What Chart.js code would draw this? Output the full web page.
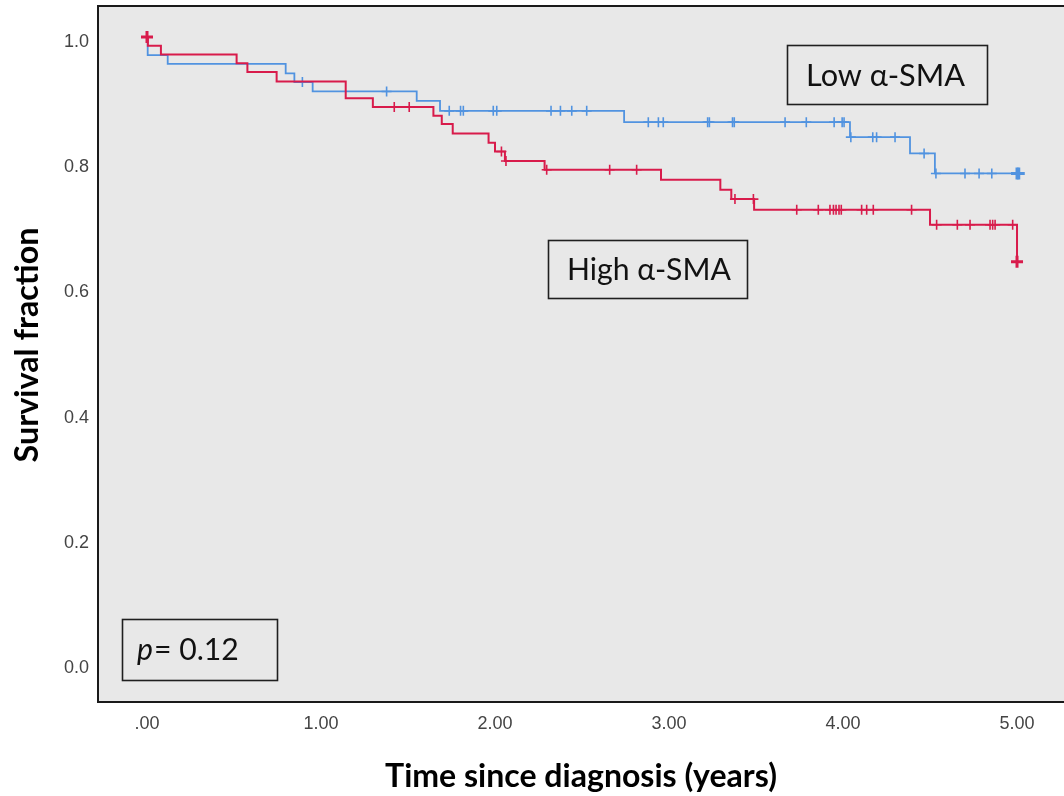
<!DOCTYPE html>
<html>
<head>
<meta charset="utf-8">
<script src="https://cdn.jsdelivr.net/npm/chart.js@4"></script>
<style>
  html, body { margin: 0; padding: 0; background: #ffffff; overflow: hidden; }
  canvas { display: block; }
</style>
</head>
<body>
<canvas id="km" width="1064" height="796"></canvas>
<script>
// ---- Data (Kaplan–Meier curves) ----
// High α-SMA group: event times (years) and survival after each step
const highTimes = [0, 0.005, 0.08, 0.515, 0.577, 0.745, 1.142, 1.298, 1.646, 1.694, 1.757, 1.963, 2.0, 2.057, 2.285, 2.954, 3.295, 3.358, 3.489, 4.5, 5.0];
const highSurv  = [1.0, 0.986, 0.972, 0.958, 0.944, 0.929, 0.902, 0.888, 0.874, 0.861, 0.846, 0.831, 0.817, 0.802, 0.788, 0.772, 0.756, 0.741, 0.724, 0.700, 0.641];
const highCensored = [0, 1.421, 1.507, 2.037, 2.063, 2.297, 2.659, 2.814, 3.379, 3.485, 3.734, 3.858, 3.925, 3.945, 3.96, 3.977, 3.99, 4.107, 4.136, 4.174, 4.394, 4.538, 4.657, 4.730, 4.845, 4.860, 4.874, 4.975, 5.0];

// Low α-SMA group
const lowTimes = [0, 0.004, 0.119, 0.797, 0.847, 0.952, 1.55, 1.684, 2.742, 4.04, 4.385, 4.528, 5.01];
const lowSurv  = [1.0, 0.971, 0.957, 0.942, 0.928, 0.913, 0.898, 0.882, 0.864, 0.840, 0.814, 0.782, 0.782];
const lowCensored = [0.893, 1.377, 1.737, 1.802, 1.818, 1.99, 2.01, 2.322, 2.376, 2.441, 2.527, 2.881, 2.939, 2.967, 3.222, 3.232, 3.365, 3.375, 3.667, 3.789, 3.949, 3.995, 4.006, 4.045, 4.171, 4.193, 4.299, 4.466, 4.534, 4.701, 4.782, 4.855, 5.0, 5.01];

const xTicks = [0, 1, 2, 3, 4, 5];
const xTickLabels = ['.00', '1.00', '2.00', '3.00', '4.00', '5.00'];
const yTicks = [0, 0.2, 0.4, 0.6, 0.8, 1.0];
const yTickLabels = ['0.0', '0.2', '0.4', '0.6', '0.8', '1.0'];

const xTitle = 'Time since diagnosis (years)';
const yTitle = 'Survival fraction';
const lowLabel = 'Low α-SMA';
const highLabel = 'High α-SMA';
const pLabelItalic = 'p';
const pLabelRest = '= 0.12';

// ---- helpers ----
const RED = '#d81b4b';
const BLUE = '#5193e0';
const TITLE_FAMILY = 'Lato, "Open Sans", sans-serif';

function steps(times, surv) {
  return times.map((t, i) => ({ x: t, y: surv[i] }));
}
function survAt(times, surv, t) {
  let v = surv[0];
  for (let i = 0; i < times.length; i++) { if (times[i] <= t) v = surv[i]; }
  return v;
}
function censorPoints(cens, times, surv) {
  return cens.map(t => ({ x: t, y: survAt(times, surv, t) }));
}

const measureCtx = document.createElement('canvas').getContext('2d');
function fitSize(text, family, weight, style, targetWidth) {
  measureCtx.font = `${style} ${weight} 40px ${family}`;
  const w = measureCtx.measureText(text).width;
  return 40 * targetWidth / w;
}
const xTitleSize = fitSize(xTitle, TITLE_FAMILY, 'bold', 'normal', 392);
const yTitleSize = fitSize(yTitle, TITLE_FAMILY, 'bold', 'normal', 235);

const bgPlugin = {
  id: 'plotFrame',
  beforeDatasetsDraw(chart) {
    const { ctx, chartArea: a } = chart;
    ctx.save();
    ctx.fillStyle = '#e8e8e8';
    ctx.fillRect(a.left, a.top, a.right - a.left, a.bottom - a.top);
    ctx.restore();
  },
  afterDatasetsDraw(chart) {
    const { ctx, chartArea: a } = chart;
    ctx.save();
    ctx.strokeStyle = '#1a1a1a';
    ctx.lineWidth = 2;
    ctx.beginPath();
    ctx.moveTo(a.right, a.top);
    ctx.lineTo(a.left, a.top);
    ctx.lineTo(a.left, a.bottom);
    ctx.lineTo(a.right, a.bottom);
    ctx.stroke();
    ctx.restore();
  }
};

const boxPlugin = {
  id: 'annotBoxes',
  afterDraw(chart) {
    const ctx = chart.ctx;
    ctx.save();
    // y axis title (rotated)
    ctx.fillStyle = '#000000';
    ctx.textAlign = 'center';
    ctx.textBaseline = 'middle';
    ctx.font = `bold ${yTitleSize}px ${TITLE_FAMILY}`;
    ctx.translate(28, 345);
    ctx.rotate(-Math.PI / 2);
    ctx.fillText(yTitle, 0, 0);
    ctx.restore();

    ctx.save();
    ctx.strokeStyle = '#1f1f1f';
    ctx.lineWidth = 1.6;
    ctx.fillStyle = '#111111';
    ctx.textBaseline = 'middle';
    ctx.textAlign = 'left';
    const fam = TITLE_FAMILY;
    // Low box
    ctx.strokeRect(787.5, 45.5, 200, 59);
    let fs = fitSize(lowLabel, fam, 'normal', 'normal', 159);
    ctx.font = `normal ${fs}px ${fam}`;
    ctx.fillText(lowLabel, 806, 76);
    // High box
    ctx.strokeRect(548.5, 240.5, 199, 58);
    fs = fitSize(highLabel, fam, 'normal', 'normal', 164);
    ctx.font = `normal ${fs}px ${fam}`;
    ctx.fillText(highLabel, 567, 270);
    // p box
    ctx.strokeRect(122.5, 619.5, 155, 61);
    ctx.font = `italic ${fs}px ${fam}`;
    ctx.fillText(pLabelItalic, 137, 650);
    const pw = ctx.measureText(pLabelItalic).width;
    ctx.font = `normal ${fs}px ${fam}`;
    ctx.fillText(pLabelRest, 137 + pw + 1, 650);
    ctx.restore();
  }
};

function clearPadding(s) {
  s.paddingTop = 0; s.paddingBottom = 0; s.paddingLeft = 0; s.paddingRight = 0;
}

const ctx = document.getElementById('km').getContext('2d');
new Chart(ctx, {
  type: 'scatter',
  data: {
    datasets: [
      {
        label: 'High α-SMA censored',
        data: censorPoints(highCensored, highTimes, highSurv),
        showLine: false,
        pointStyle: 'cross',
        pointRadius: c => (c.raw && (c.raw.x >= 4.99 || c.raw.x === 0)) ? 6 : 5,
        pointBorderWidth: c => (c.raw && (c.raw.x >= 4.99 || c.raw.x === 0)) ? 3 : 1.6,
        borderColor: RED,
        backgroundColor: RED
      },
      {
        label: 'High α-SMA',
        data: steps(highTimes, highSurv),
        showLine: true,
        stepped: 'before',
        borderColor: RED,
        borderWidth: 2,
        pointRadius: 0
      },
      {
        label: 'Low α-SMA censored',
        data: censorPoints(lowCensored, lowTimes, lowSurv),
        showLine: false,
        pointStyle: 'cross',
        pointRadius: c => (c.raw && c.raw.x >= 4.99) ? 6 : 5,
        pointBorderWidth: c => (c.raw && c.raw.x >= 4.99) ? 3 : 1.6,
        borderColor: BLUE,
        backgroundColor: BLUE
      },
      {
        label: 'Low α-SMA',
        data: steps(lowTimes, lowSurv),
        showLine: true,
        stepped: 'before',
        borderColor: BLUE,
        borderWidth: 1.8,
        pointRadius: 0
      }
    ]
  },
  options: {
    responsive: false,
    animation: false,
    layout: { autoPadding: false, padding: { top: 6, left: 0, right: 0, bottom: 0 } },
    plugins: { legend: { display: false }, tooltip: { enabled: false } },
    scales: {
      x: {
        type: 'linear',
        min: -0.2816,
        max: 5.270,
        afterBuildTicks: s => { s.ticks = xTicks.map(v => ({ value: v })); },
        afterFit: s => { s.height = 94; clearPadding(s); },
        grid: { display: false, drawTicks: false },
        border: { display: false },
        ticks: {
          callback: (v) => { const i = xTicks.indexOf(v); return i >= 0 ? xTickLabels[i] : ''; },
          font: { family: '"Liberation Sans", Arial, sans-serif', size: 18 },
          color: '#444444',
          padding: 11,
          maxRotation: 0,
          autoSkip: false
        },
        title: {
          display: true,
          text: xTitle,
          font: { family: TITLE_FAMILY, size: xTitleSize, weight: 'bold' },
          color: '#000000',
          padding: { top: 0, bottom: 0 }
        }
      },
      y: {
        type: 'linear',
        min: -0.0623,
        max: 1.0495,
        afterBuildTicks: s => { s.ticks = yTicks.map(v => ({ value: v })); },
        afterFit: s => { s.width = 98; clearPadding(s); },
        grid: { display: false, drawTicks: false },
        border: { display: false },
        ticks: {
          callback: (v) => { const i = yTicks.findIndex(t => Math.abs(t - v) < 1e-9); return i >= 0 ? yTickLabels[i] : ''; },
          font: { family: '"Liberation Sans", Arial, sans-serif', size: 18 },
          color: '#444444',
          padding: 9,
          labelOffset: 5,
          autoSkip: false
        },
        title: { display: false }
      }
    }
  },
  plugins: [bgPlugin, boxPlugin]
});
</script>
</body>
</html>
